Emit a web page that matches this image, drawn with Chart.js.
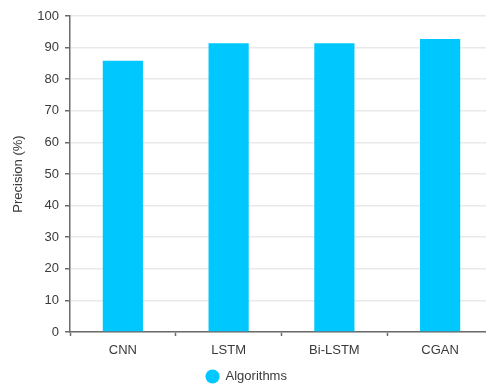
<!DOCTYPE html>
<html>
<head>
<meta charset="utf-8">
<script src="https://cdn.jsdelivr.net/npm/chart.js@4.4.1/dist/chart.umd.min.js"></script>
<style>
  html, body { margin: 0; padding: 0; background: #fff; overflow: hidden; }
  #wrap { position: relative; width: 494px; height: 387px; }
</style>
</head>
<body>
<div id="wrap"><canvas id="chart"></canvas></div>
<script>
// Precision of each algorithm (%)
const categories = ['CNN', 'LSTM', 'Bi-LSTM', 'CGAN'];
const precision = [85.8, 91.4, 91.4, 92.7];
const seriesName = 'Algorithms';
const yTicks = [0, 10, 20, 30, 40, 50, 60, 70, 80, 90, 100];

const font = { family: '"Liberation Sans", Arial, sans-serif', size: 13 };
const textColor = '#3a3a3a';
const axisColor = '#6b6b6b';
const gridColor = '#ebe8ea';
const barColor = '#00c8ff';

new Chart(document.getElementById('chart'), {
  type: 'bar',
  data: {
    labels: categories,
    datasets: [{
      label: seriesName,
      data: precision,
      backgroundColor: barColor,
      borderWidth: 0,
      barPercentage: 0.38,
      categoryPercentage: 1.0
    }]
  },
  options: {
    responsive: true,
    maintainAspectRatio: false,
    animation: false,
    layout: { padding: { top: 16, right: 1, left: 0, bottom: -6 } },
    plugins: {
      tooltip: { enabled: false },
      legend: {
        position: 'bottom',
        labels: {
          usePointStyle: true,
          pointStyle: 'circle',
          boxHeight: 10,
          color: textColor,
          font: font,
          padding: 2
        }
      }
    },
    scales: {
      x: {
        offset: true,
        afterFit: (scale) => { scale.height = 36; },
        grid: {
          offset: true,
          drawOnChartArea: false,
          tickLength: 4,
          tickColor: axisColor,
          tickWidth: 1.5
        },
        border: { color: axisColor, width: 1.5 },
        ticks: { color: textColor, font: font, padding: 7 }
      },
      y: {
        min: 0,
        max: 100,
        afterFit: (scale) => { scale.width = 70; },
        afterBuildTicks: (scale) => { scale.ticks = yTicks.map(v => ({ value: v })); },
        title: {
          display: true,
          text: 'Precision (%)',
          color: textColor,
          font: font,
          padding: { top: 11, bottom: 0 }
        },
        grid: {
          color: gridColor,
          lineWidth: 1.5,
          tickLength: 5,
          tickColor: axisColor,
          tickWidth: 1.5
        },
        border: { color: axisColor, width: 1.5 },
        ticks: { color: textColor, font: font, padding: 6 }
      }
    }
  }
});
</script>
</body>
</html>
